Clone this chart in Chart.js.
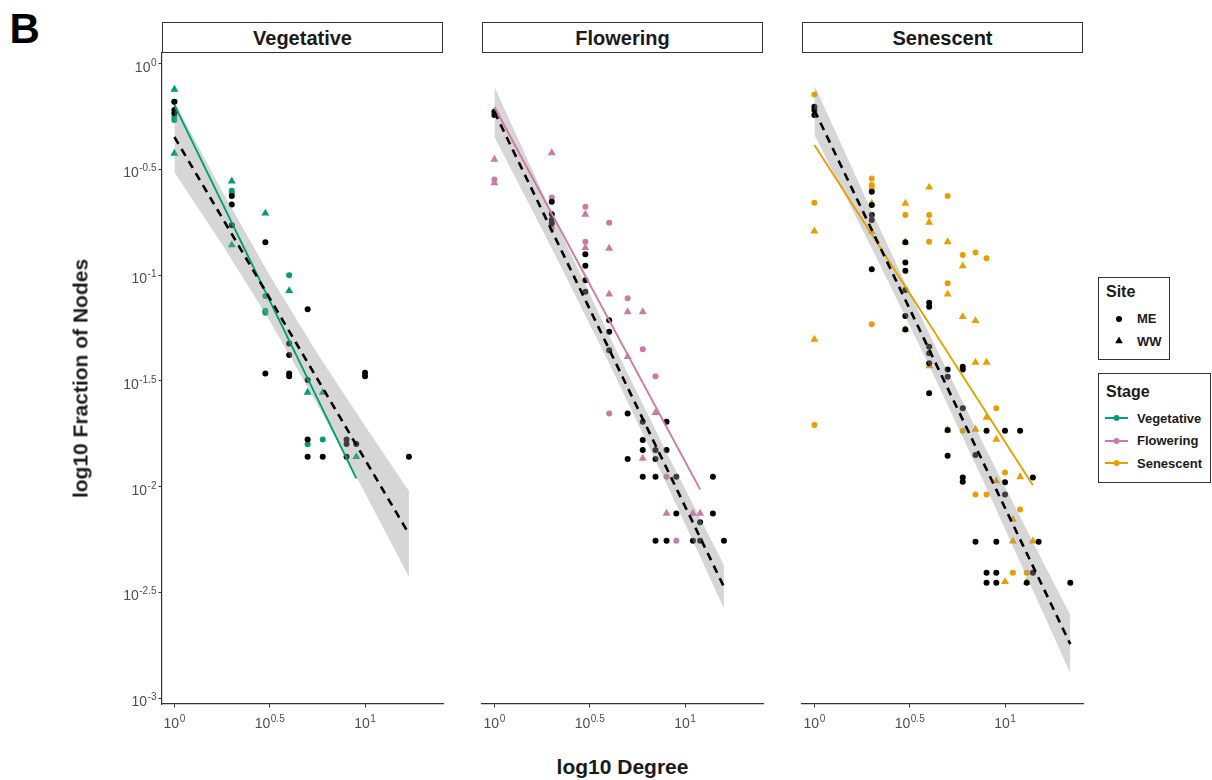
<!DOCTYPE html>
<html><head><meta charset="utf-8">
<script src="https://cdn.jsdelivr.net/npm/chart.js@4.4.1/dist/chart.umd.min.js"></script>
<style>
body{margin:0;background:#fff;width:1212px;height:780px;position:relative;overflow:hidden;font-family:"Liberation Sans",Arial,Helvetica,sans-serif;color:#1a1a1a;}
canvas{position:absolute;}
.t{position:absolute;white-space:nowrap;font-weight:bold;}
.strip{position:absolute;top:22px;height:31px;width:281px;border:1.5px solid #333;box-sizing:border-box;background:#fff;display:flex;align-items:center;justify-content:center;font-weight:bold;font-size:20px;line-height:20px;color:#1a1a1a;}
.box{position:absolute;border:1.5px solid #333;box-sizing:border-box;}
svg{position:absolute;overflow:visible;}
</style></head>
<body>
<div class="t" style="left:9.6px;top:8.4px;font-size:42px;line-height:42px;color:#000;">B</div>
<div class="strip" style="left:162px;">Vegetative</div>
<div class="strip" style="left:482px;">Flowering</div>
<div class="strip" style="left:802px;">Senescent</div>
<canvas id="c1" width="360" height="700" style="left:90px;top:40px;"></canvas>
<canvas id="c2" width="300" height="700" style="left:470px;top:40px;"></canvas>
<canvas id="c3" width="300" height="700" style="left:790px;top:40px;"></canvas>
<div class="t" style="left:322.5px;width:600px;text-align:center;top:756.2px;font-size:21px;line-height:21px;">log10 Degree</div>
<div class="t" style="left:-120px;top:368px;width:400px;text-align:center;font-size:21px;line-height:21px;transform:rotate(-90deg);">log10 Fraction of Nodes</div>

<div class="box" style="left:1098px;top:277px;width:72px;height:83px;"></div>
<div class="t" style="left:1106px;top:283.5px;font-size:16px;line-height:16px;">Site</div>
<svg style="left:1119px;top:318.5px;" width="1" height="1"><circle cx="0" cy="0" r="3" fill="#000"/></svg>
<div class="t" style="left:1137px;top:312.2px;font-size:13px;line-height:13px;">ME</div>
<svg style="left:1119px;top:341px;" width="1" height="1"><polygon points="0,-4.4 3.8,2.2 -3.8,2.2" fill="#000"/></svg>
<div class="t" style="left:1137px;top:334.7px;font-size:13px;line-height:13px;">WW</div>

<div class="box" style="left:1098px;top:373px;width:113px;height:110px;"></div>
<div class="t" style="left:1106px;top:383.5px;font-size:16px;line-height:16px;">Stage</div>
<svg style="left:1105px;top:418px;" width="1" height="1"><line x1="0" y1="0" x2="23" y2="0" stroke="#009E73" stroke-width="2"/><circle cx="11.5" cy="0" r="3" fill="#009E73"/></svg>
<div class="t" style="left:1137px;top:411.7px;font-size:13px;line-height:13px;">Vegetative</div>
<svg style="left:1105px;top:440.5px;" width="1" height="1"><line x1="0" y1="0" x2="23" y2="0" stroke="#CC79A7" stroke-width="2"/><circle cx="11.5" cy="0" r="3" fill="#CC79A7"/></svg>
<div class="t" style="left:1137px;top:434.2px;font-size:13px;line-height:13px;">Flowering</div>
<svg style="left:1105px;top:463px;" width="1" height="1"><line x1="0" y1="0" x2="23" y2="0" stroke="#E69F00" stroke-width="2"/><circle cx="11.5" cy="0" r="3" fill="#E69F00"/></svg>
<div class="t" style="left:1137px;top:456.7px;font-size:13px;line-height:13px;">Senescent</div>

<script>
// ---------- axis ticks (log10 units) ----------
const xTickVals = [0, 0.5, 1];
const yTickVals = [0, -0.5, -1, -1.5, -2, -2.5, -3];
const xRange = [-0.065, 1.409];
const yRange = [-3.028, 0.05];

// ---------- Vegetative ----------
const vegMEdeg = [1,1,1,2,2,3,3,3,4,5,6];
const vegMEy   = [-0.181,-0.252,-0.267,-0.601,-0.614,-1.099,-1.169,-1.178,-1.001,-1.800,-1.777];
const vegWWdeg = [1,1,2,2,3,4,5,6,9];
const vegWWy   = [-0.122,-0.425,-0.556,-0.858,-0.708,-1.074,-1.555,-1.555,-1.859];
const vegRefDeg = [1,1,1,2,2,2,3,4,4,5,3,4,4,5,10,10,5,8,8,9,5,6,8,17];
const vegRefY   = [-0.181,-0.220,-0.235,-0.626,-0.666,-0.764,-0.845,-1.323,-1.378,-1.162,-1.465,-1.465,-1.478,-1.496,-1.462,-1.478,-1.777,-1.777,-1.799,-1.799,-1.859,-1.859,-1.859,-1.859];
const vegFitDeg = [1, 9];
const vegFitY   = [-0.195, -1.961];
const vegAllDeg = [1, 17];
const vegAllY   = [-0.347, -2.224];
const vegBandX  = [0, 0.25, 0.5, 0.75, 1.0, 1.2304];
const vegBandHi = [-0.180, -0.602, -1.002, -1.371, -1.714, -2.021];
const vegBandLo = [-0.514, -0.854, -1.216, -1.611, -2.030, -2.427];

// ---------- Flowering ----------
const floMEdeg = [1,2,2,3,3,4,5,6,7,4,8,9];
const floMEy   = [-0.548,-0.633,-0.779,-0.677,-0.843,-0.753,-1.110,-1.351,-1.478,-1.654,-1.954,-2.256];
const floWWdeg = [1,1,2,3,3,4,4,5,6,5,7,6,8,11,12];
const floWWy   = [-0.453,-0.564,-0.422,-0.713,-0.871,-0.874,-1.090,-1.174,-1.174,-1.386,-1.651,-1.867,-2.127,-2.127,-2.127];
const floRefDeg = [1,1,2,2,2,2,3,3,3,3,4,4,4,5,6,8,6,6,7,8,5,7,6,7,9,14,9,14,12,7,8,11,12,16];
const floRefY   = [-0.228,-0.243,-0.653,-0.712,-0.740,-0.756,-0.902,-0.956,-1.024,-1.079,-1.213,-1.268,-1.355,-1.654,-1.694,-1.694,-1.780,-1.827,-1.827,-1.827,-1.870,-1.870,-1.954,-1.954,-1.954,-1.954,-2.127,-2.127,-2.169,-2.256,-2.256,-2.256,-2.256,-2.256];
const floFitDeg = [1, 12];
const floFitY   = [-0.205, -2.013];
const floAllDeg = [1, 16];
const floAllY   = [-0.228, -2.474];
const floBandX  = [0, 0.3, 0.6, 0.9, 1.2041];
const floBandHi = [-0.110, -0.704, -1.282, -1.833, -2.371];
const floBandLo = [-0.346, -0.872, -1.413, -1.981, -2.577];

// ---------- Senescent ----------
const senMEdeg = [1,1,1,2,2,2,2,3,4,4,5,5,6,7,8,9,6,10,7,8,12,11,13];
const senMEy   = [-0.146,-0.658,-1.709,-0.543,-0.574,-0.590,-1.233,-0.716,-0.716,-0.843,-0.626,-1.039,-0.905,-0.893,-0.921,-1.630,-1.736,-1.933,-2.037,-2.037,-2.108,-2.408,-2.408];
const senWWdeg = [1,1,2,2,3,3,3,4,4,4,5,5,6,6,7,7,8,8,5,7,9,9,12,11,11,14,10,13];
const senWWy   = [-0.792,-1.304,-0.661,-0.795,-0.661,-0.844,-1.257,-0.585,-0.751,-1.430,-0.843,-1.091,-0.957,-1.197,-1.216,-1.413,-1.413,-1.673,-1.733,-1.730,-1.777,-1.973,-1.954,-2.155,-2.258,-2.258,-2.450,-2.452];
const senRefDeg = [1,1,1,2,2,2,2,2,3,3,3,3,3,3,4,4,4,4,4,5,5,6,6,4,6,5,8,10,12,5,7,6,6,10,14,10,7,9,15,8,9,14,8,9,13,22];
const senRefY   = [-0.204,-0.220,-0.243,-0.606,-0.669,-0.716,-0.740,-0.972,-0.845,-0.940,-0.980,-1.071,-1.194,-1.257,-1.131,-1.150,-1.339,-1.370,-1.417,-1.446,-1.481,-1.434,-1.446,-1.559,-1.630,-1.733,-1.736,-1.736,-1.736,-1.854,-1.851,-1.957,-1.977,-1.980,-1.957,-2.037,-2.261,-2.261,-2.261,-2.408,-2.408,-2.408,-2.455,-2.455,-2.455,-2.455];
const senFitDeg = [1, 14];
const senFitY   = [-0.385, -1.994];
const senAllDeg = [1, 22];
const senAllY   = [-0.220, -2.745];
const senBandX  = [0, 0.3, 0.6, 0.9, 1.2, 1.3424];
const senBandHi = [-0.102, -0.697, -1.274, -1.824, -2.358, -2.607];
const senBandLo = [-0.338, -0.871, -1.424, -2.002, -2.598, -2.883];

const stageColors = ['#009E73', '#CC79A7', '#E69F00'];
const FONT = '"Liberation Sans", Arial, Helvetica, sans-serif';

function degPts(degs, ys){ return degs.map((d,i)=>({x:Math.log10(d), y:ys[i]})); }
function logPts(xs, ys){ return xs.map((x,i)=>({x:x, y:ys[i]})); }
function fmt(v){ return v === 0 ? '0' : String(v); }

function drawSup(ctx, x, baseY, exp, align){
  ctx.font = '14px ' + FONT;
  const wb = ctx.measureText('10').width;
  ctx.font = '10px ' + FONT;
  const we = ctx.measureText(exp).width;
  const total = wb + 0.5 + we;
  const x0 = align === 'center' ? x - total/2 : x - total;
  ctx.textAlign = 'left'; ctx.textBaseline = 'alphabetic';
  ctx.font = '14px ' + FONT; ctx.fillText('10', x0, baseY);
  ctx.font = '10px ' + FONT; ctx.fillText(exp, x0 + wb + 0.5, baseY - 6);
}

function makePlugin(showY){
  return {
    id: 'supTicks',
    afterDraw(chart){
      const ctx = chart.ctx;
      ctx.save();
      ctx.fillStyle = '#4d4d4d';
      const xs = chart.scales.x;
      xTickVals.forEach(v => drawSup(ctx, xs.getPixelForValue(v), xs.top + 24, fmt(v), 'center'));
      if (showY){
        const ys = chart.scales.y;
        yTickVals.forEach(v => drawSup(ctx, ys.right - 5.5, ys.getPixelForValue(v) + 8, fmt(v), 'right'));
      }
      ctx.restore();
    }
  };
}

function buildPanel(id, showY, padL, color, me, ww, ref, fit, all, band){
  const datasets = [
    {label:'all', data: degPts(all[0], all[1]), borderColor:'#000', borderWidth:2.6, borderDash:[8,6], pointRadius:0, showLine:true, fill:false, order:0},
    {label:'fit', data: degPts(fit[0], fit[1]), borderColor:color, borderWidth:1.9, pointRadius:0, showLine:true, fill:false, order:1},
    {label:'bandHi', data: logPts(band[0], band[1]), borderWidth:0, borderColor:'rgba(0,0,0,0)', pointRadius:0, showLine:true, fill:{target:'+1'}, backgroundColor:'rgba(153,153,153,0.4)', order:2},
    {label:'bandLo', data: logPts(band[0], band[2]), borderWidth:0, borderColor:'rgba(0,0,0,0)', pointRadius:0, showLine:true, fill:false, order:3},
    {label:'ref', data: degPts(ref[0], ref[1]), showLine:false, pointStyle:'circle', pointRadius:3, pointBorderWidth:0, pointBackgroundColor:'#000', order:4},
    {label:'ME', data: degPts(me[0], me[1]), showLine:false, pointStyle:'circle', pointRadius:3, pointBorderWidth:0, pointBackgroundColor:color, order:5},
    {label:'WW', data: degPts(ww[0], ww[1]), showLine:false, pointStyle:'triangle', pointRadius:4.6, pointBorderWidth:0, pointBackgroundColor:color, order:6}
  ];
  new Chart(document.getElementById(id), {
    type: 'line',
    data: {datasets},
    plugins: [makePlugin(showY)],
    options: {
      responsive:false, animation:false, events:[],
      elements:{line:{tension:0}},
      layout:{padding:{left:padL, right:7, top:13, bottom:0}},
      plugins:{legend:{display:false}, tooltip:{enabled:false}, filler:{propagate:false}},
      scales:{
        x:{type:'linear', min:xRange[0], max:xRange[1],
           afterBuildTicks(s){ s.ticks = xTickVals.map(v=>({value:v})); },
           afterFit(s){ s.height = 36; },
           ticks:{display:false},
           grid:{drawOnChartArea:false, drawTicks:true, tickLength:3.5, color:'#333', lineWidth:1},
           border:{display:true, color:'#333', width:1.2}},
        y:{type:'linear', display:showY, min:yRange[0], max:yRange[1],
           afterBuildTicks(s){ s.ticks = yTickVals.map(v=>({value:v})); },
           afterFit(s){ s.width = showY ? 72 : 0; },
           ticks:{display:false},
           grid:{drawOnChartArea:false, drawTicks:true, tickLength:3.5, color:'#333', lineWidth:1},
           border:{display:true, color:'#333', width:1.2}}
      }
    }
  });
}

buildPanel('c1', true, 0, stageColors[0], [vegMEdeg,vegMEy], [vegWWdeg,vegWWy], [vegRefDeg,vegRefY], [vegFitDeg,vegFitY], [vegAllDeg,vegAllY], [vegBandX,vegBandHi,vegBandLo]);
buildPanel('c2', false, 12, stageColors[1], [floMEdeg,floMEy], [floWWdeg,floWWy], [floRefDeg,floRefY], [floFitDeg,floFitY], [floAllDeg,floAllY], [floBandX,floBandHi,floBandLo]);
buildPanel('c3', false, 12, stageColors[2], [senMEdeg,senMEy], [senWWdeg,senWWy], [senRefDeg,senRefY], [senFitDeg,senFitY], [senAllDeg,senAllY], [senBandX,senBandHi,senBandLo]);
</script>
</body></html>
